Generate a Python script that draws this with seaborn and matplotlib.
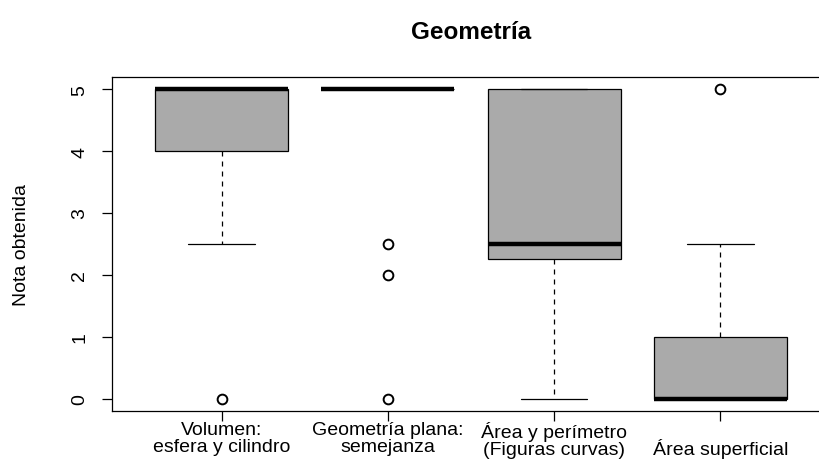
import matplotlib
matplotlib.use("Agg")
import matplotlib.pyplot as plt
import seaborn as sns
import pandas as pd

# Topic labels (two lines each, as printed under the axis)
topics = [
    "Volumen:\nesfera y cilindro",
    "Geometría plana:\nsemejanza",
    "Área y perímetro\n(Figuras curvas)",
    "\nÁrea superficial",
]

# Marks obtained per topic
notas_volumen = [0, 2.5, 4, 4, 5, 5, 5, 5, 5]
notas_plana = [0, 2, 2.5, 5, 5, 5, 5, 5, 5, 5, 5, 5, 5]
notas_area = [0, 2, 2.25, 2.5, 2.5, 3, 5, 5, 5]
notas_superficial = [0, 0, 0, 0, 0, 0.5, 1, 2.5, 5]

series = [notas_volumen, notas_plana, notas_area, notas_superficial]
df = pd.DataFrame(
    [(t, v) for t, vals in zip(topics, series) for v in vals],
    columns=["tema", "nota"],
)

sns.set_theme(style="white")
plt.rcParams["font.family"] = ["Liberation Sans", "DejaVu Sans"]

fig, ax = plt.subplots(figsize=(8.19, 4.64), dpi=100)
# the plotting frame runs slightly past the right edge of the canvas
fig.subplots_adjust(left=0.1368, right=1.0134, top=0.832, bottom=0.112)

sns.boxplot(
    data=df, x="tema", y="nota", order=topics, ax=ax,
    color="#AAAAAA", width=0.8, whis=1.5, saturation=1,
    boxprops=dict(facecolor="#AAAAAA", edgecolor="black", linewidth=0.9),
    medianprops=dict(color="black", linewidth=3.2, solid_capstyle="butt"),
    whiskerprops=dict(color="black", linewidth=0.9, linestyle=(0, (4, 4))),
    capprops=dict(color="black", linewidth=0.9),
    flierprops=dict(marker="o", markersize=7, markerfacecolor="none",
                    markeredgecolor="black", markeredgewidth=1.4),
)

ax.set_xlim(-0.66, 3.66)
ax.set_ylim(-0.2, 5.2)
ax.set_yticks([0, 1, 2, 3, 4, 5])
ax.set_yticklabels(["0", "1", "2", "3", "4", "5"], rotation=90, va="center")
ax.tick_params(axis="both", direction="out", length=7, width=0.9,
               color="black", labelsize=14, labelcolor="black",
               bottom=True, left=True)
ax.tick_params(axis="y", pad=10)
ax.tick_params(axis="x", pad=0.5)
for lab in ax.get_xticklabels():
    lab.set_linespacing(1.0)

for sp in ax.spines.values():
    sp.set_visible(True)
    sp.set_color("black")
    sp.set_linewidth(0.9)

ax.set_xlabel("")
ax.set_ylabel("Nota obtenida", fontsize=14, color="black", labelpad=30)
ax.set_title("Geometría", fontsize=17.5, fontweight="bold", pad=28,
             color="black")

fig.savefig("out.png", dpi=100, facecolor="white")
